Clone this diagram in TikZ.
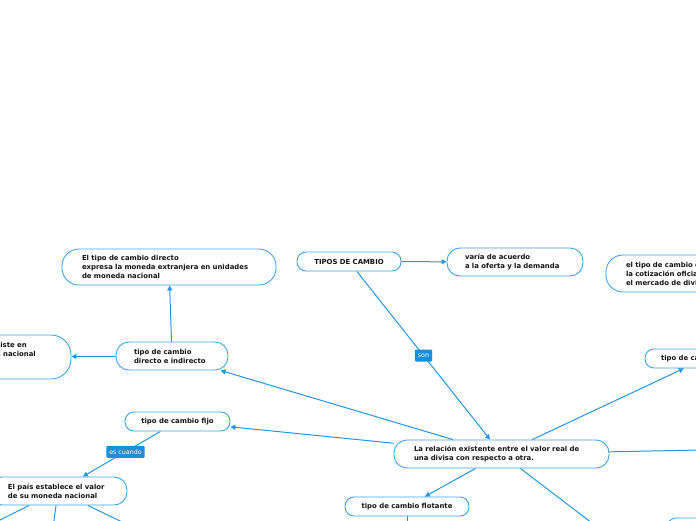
\documentclass[tikz,border=0pt]{standalone}
\usepackage{fontspec}
\setmainfont{DejaVu Sans}
\usetikzlibrary{arrows.meta}
\definecolor{lc}{RGB}{36,150,224}
\definecolor{bc}{RGB}{60,163,232}
\definecolor{lf}{RGB}{26,143,219}
\definecolor{tx}{RGB}{20,20,20}
\begin{document}
\begin{tikzpicture}[x=1pt,y=-1pt,
 box/.style={draw=bc, line width=0.9pt, fill=white, font=\fontsize{6.9}{9}\selectfont\bfseries, inner ysep=0pt, text=tx},
 lbox/.style={box, align=left},
 cbox/.style={box, align=center, inner xsep=0pt},
 txt/.style={font=\fontsize{6.9}{9}\selectfont\bfseries, text=tx, inner sep=0pt},
 conn/.style={draw=lc, line width=1pt},
 arr/.style={conn, -{Triangle[length=5pt,width=5pt]}},
 lbl/.style={fill=lf, text=white, font=\fontsize{6.3}{7}\selectfont, rounded corners=1pt, inner xsep=3pt, inner ysep=0pt, minimum height=12pt}]
\useasboundingbox (0,0) rectangle (696,520);
\clip (0,0) rectangle (696,520);
% nodes
\node[lbox, text width=174pt, inner xsep=20pt, minimum height=36pt, rounded corners=17pt] (n1) at (169,267) {El tipo de cambio directo\\expresa la moneda extranjera en unidades\\de moneda nacional};
\node[lbox, text width=76pt, inner xsep=18pt, minimum height=28pt, rounded corners=13pt] (n2) at (172,356) {tipo de cambio\\directo e indirecto};
\node[box, inner sep=0pt, minimum width=170pt, minimum height=44pt, rounded corners=20pt] (n3) at (-14,357) {};
\node[txt, anchor=base east] (n3a) at (27,347) {consiste en};
\node[txt, anchor=base east] (n3b) at (36,356) {moneda nacional};
\node[cbox, minimum width=104pt, minimum height=19pt, rounded corners=9pt] (n4) at (349,261.5) {TIPOS DE CAMBIO};
\node[lbox, text width=100pt, inner xsep=18pt, minimum height=28pt, rounded corners=13pt] (n5) at (515,262) {varía de acuerdo\\a la oferta y la demanda};
\node[lbox, text width=160pt, inner xsep=20pt, minimum height=37pt, rounded corners=17pt] (n6) at (706,273.5) {el tipo de cambio oficial es\\la cotización oficial en\\el mercado de divisas};
\node[lbox, text width=88pt, inner xsep=16pt, minimum height=19pt, rounded corners=9pt] (n7) at (705,358.5) {tipo de cambio oficial};
\node[cbox, minimum width=105pt, minimum height=19pt, rounded corners=9pt] (n8) at (177.5,421.5) {tipo de cambio fijo};
\node[lbox, text width=100pt, inner xsep=19pt, minimum height=28pt, rounded corners=13pt] (n10) at (58,491) {El país establece el valor\\de su moneda nacional};
\node[lbox, text width=175pt, inner xsep=20pt, minimum height=28pt, rounded corners=13pt] (n11) at (501.5,454) {La relación existente entre el valor real de\\una divisa con respecto a otra.};
\node[cbox, minimum width=124pt, minimum height=19pt, rounded corners=9pt] (n12) at (407,506.5) {tipo de cambio flotante};
\node[cbox, minimum width=120pt, minimum height=19pt, rounded corners=9pt] (n13) at (727,527.5) {};
% free ends
\coordinate (e1) at (800,448);
\coordinate (e2) at (640.4,560);
\coordinate (e3) at (-60,550);
\coordinate (e4) at (50,550);
\coordinate (e5) at (180,550);
\coordinate (e6) at (407,560);
% connectors
\draw[arr] (n2) -- (n1);
\draw[arr] (n2) -- (n3);
\draw[arr] (n11) -- (n2);
\draw[arr] (n4) -- (n5);
\draw[arr] (n4) -- node[lbl] {son} (n11);
\draw[arr] (n11) -- (n8);
\draw[arr] (n8) -- node[lbl, pos=0.45] {es cuando} (n10);
\draw[arr] (n11) -- (n7);
\draw[conn] (n11) -- (e1);
\draw[arr] (n11) -- (n12);
\draw[conn] (n11) -- (e2);
\draw[conn] (n10) -- (e3);
\draw[conn] (n10) -- (e4);
\draw[conn] (n10) -- (e5);
\draw[conn] (n12) -- (e6);
\end{tikzpicture}
\end{document}
